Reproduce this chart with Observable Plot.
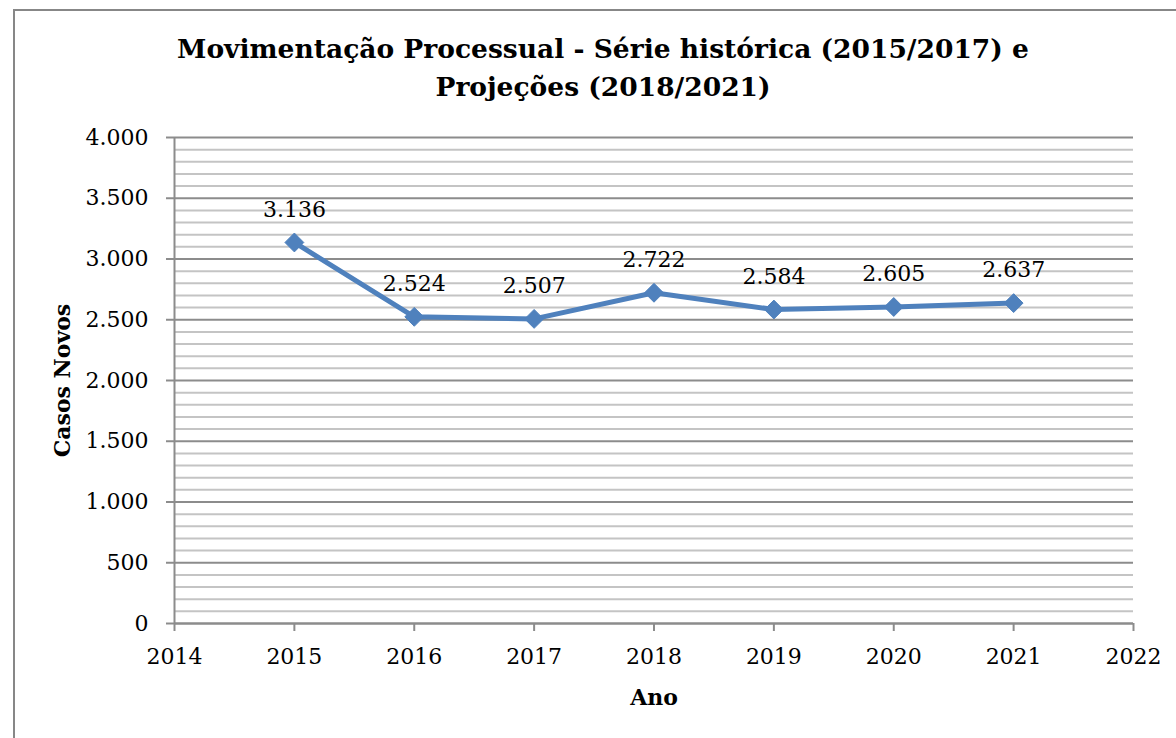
<!DOCTYPE html>
<html>
<head>
<meta charset="utf-8">
<script src="https://cdn.jsdelivr.net/npm/d3@7"></script>
<script src="https://cdn.jsdelivr.net/npm/@observablehq/plot@0.6"></script>
<style>
  html, body { margin: 0; padding: 0; background: #fff; overflow: hidden; }
  #wrap { position: relative; width: 1176px; height: 738px; overflow: hidden; font-family: "DejaVu Serif", serif; }
  #frame { position: absolute; left: 13px; top: 9px; width: 1300px; height: 900px; border: 2px solid #878787; box-sizing: border-box; }
  #title { position: absolute; left: 0; top: 0; width: 1206px; height: 117px; text-align: center; font-weight: bold; font-size: 26.5px; line-height: 38px; padding-top: 30px; box-sizing: border-box; color: #000; }
  #chart { position: absolute; left: 0; top: 117px; }
</style>
</head>
<body>
<div id="wrap">
  <div id="frame"></div>
  <div id="title">Movimentação Processual - Série histórica (2015/2017) e<br>Projeções (2018/2021)</div>
  <div id="chart"></div>
</div>
<script>
const years = [2015, 2016, 2017, 2018, 2019, 2020, 2021];
const casosNovos = [3136, 2524, 2507, 2722, 2584, 2605, 2637];
const xTicks = [2014, 2015, 2016, 2017, 2018, 2019, 2020, 2021, 2022];
const yMajorTicks = [0, 500, 1000, 1500, 2000, 2500, 3000, 3500, 4000];
const yMinorTicks = [100, 200, 300, 400, 600, 700, 800, 900, 1100, 1200, 1300, 1400, 1600, 1700, 1800, 1900, 2100, 2200, 2300, 2400, 2600, 2700, 2800, 2900, 3100, 3200, 3300, 3400, 3600, 3700, 3800, 3900];

const data = years.map((ano, i) => ({ano, valor: casosNovos[i]}));
const fmt = d3.formatLocale({decimal: ",", thousands: ".", grouping: [3], currency: ["", ""]}).format(",");

const plot = Plot.plot({
  width: 1176,
  height: 621,
  marginTop: 20,
  marginLeft: 174,
  marginRight: 43,
  marginBottom: 115,
  style: {fontFamily: "DejaVu Serif, serif", fontSize: "22px", background: "transparent", color: "#000"},
  x: {domain: [2014, 2022]},
  y: {domain: [0, 4000]},
  marks: [
    Plot.gridY(yMinorTicks, {stroke: "#c4c4c4", strokeOpacity: 1, strokeWidth: 2}),
    Plot.gridY(yMajorTicks, {stroke: "#8c8c8c", strokeOpacity: 1, strokeWidth: 2}),
    Plot.ruleX([2014], {stroke: "#8c8c8c", strokeWidth: 2}),
    Plot.ruleY([0], {stroke: "#8c8c8c", strokeWidth: 2}),
    Plot.axisY(yMajorTicks, {tickSize: 8, tickPadding: 18, tickFormat: fmt, stroke: "#8c8c8c", strokeWidth: 2, label: null, fill: "#000", fontSize: 22}),
    Plot.axisX(xTicks, {tickSize: 8, tickPadding: 17, tickFormat: "d", stroke: "#8c8c8c", strokeWidth: 2, label: null, fill: "#000", fontSize: 22}),
    Plot.line(data, {x: "ano", y: "valor", stroke: "#4f81bd", strokeWidth: 5}),
    Plot.dot(data, {x: "ano", y: "valor", symbol: "diamond2", r: 8.5, fill: "#4f81bd", stroke: "#4f81bd", strokeWidth: 1}),
    Plot.text(data, {x: "ano", y: "valor", text: d => fmt(d.valor), dy: -33, fill: "#000", fontSize: 22}),
    Plot.text(["Casos Novos"], {frameAnchor: "left", dx: -112, rotate: -90, textAnchor: "middle", lineAnchor: "middle", fontWeight: "bold", fontSize: 22, fill: "#000"}),
    Plot.text(["Ano"], {frameAnchor: "bottom", dy: 74, textAnchor: "middle", lineAnchor: "middle", fontWeight: "bold", fontSize: 22, fill: "#000"})
  ]
});
document.getElementById("chart").appendChild(plot);
</script>
</body>
</html>
